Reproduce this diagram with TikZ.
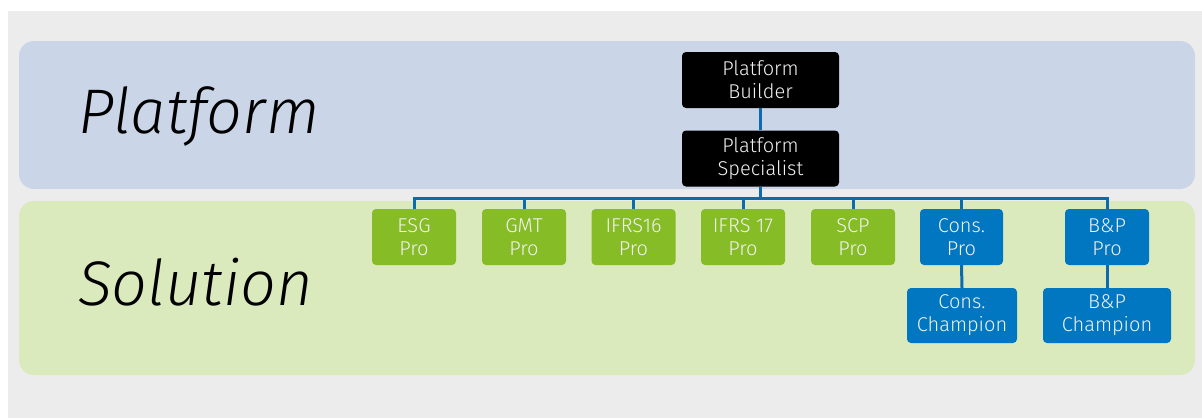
\documentclass[tikz,border=0pt]{standalone}
\usepackage{fontspec}
\setmainfont{Fira Sans}
\IfFontExistsTF{FiraSans-LightItalic.otf}{\newfontfamily\bandfont{FiraSans-LightItalic.otf}}{%
\IfFontExistsTF{FiraSans-LightItalic.ttf}{\newfontfamily\bandfont{FiraSans-LightItalic.ttf}}{%
\newfontfamily\bandfont{Fira Sans Light}[FakeSlant=0.2]}}
\IfFontExistsTF{FiraSans-Light.otf}{\newfontfamily\rolefont{FiraSans-Light.otf}}{%
\IfFontExistsTF{FiraSans-Light.ttf}{\newfontfamily\rolefont{FiraSans-Light.ttf}}{%
\newfontfamily\rolefont{Fira Sans}}}
\definecolor{bggray}{HTML}{ECECEC}
\definecolor{platband}{HTML}{CBD5E8}
\definecolor{solband}{HTML}{DBEABD}
\definecolor{progreen}{HTML}{86BC25}
\definecolor{problue}{HTML}{0077C0}
\definecolor{linkblue}{HTML}{0A6BB0}
\definecolor{roletext}{HTML}{F2F2F2}
\tikzset{
  band/.style={rounded corners=15pt, draw=none},
  role/.style={rounded corners=4pt, text=roletext, align=center, inner sep=0pt,
    font=\rolefont\fontsize{20}{23}\selectfont},
  blackrole/.style={role, fill=black, minimum width=157pt, minimum height=56pt},
  greenrole/.style={role, fill=progreen, minimum width=84pt, minimum height=56pt},
  bluerole/.style={role, fill=problue, minimum height=56pt},
  bandlabel/.style={anchor=base west, inner sep=0pt, font=\bandfont\fontsize{63}{70}\selectfont},
  link/.style={draw=linkblue, line width=3pt}
}
\begin{document}
\begin{tikzpicture}[x=1pt,y=-1pt]
\useasboundingbox (0,0) rectangle (1202,418);
\fill[white] (0,0) rectangle (1202,418);
\fill[bggray] (8,11) rectangle (1202,418);
\fill[band, fill=platband] (19,41) rectangle (1195,189);
\fill[band, fill=solband] (19,201) rectangle (1195,375);
\node[bandlabel] (lplat) at (78,133) {Platform};
\node[bandlabel] (lsol) at (78,305) {Solution};

\node[blackrole] (builder) at (760.5,80) {Platform\\Builder};
\node[blackrole] (spec) at (760.5,158.5) {Platform\\Specialist};

\node[greenrole] (esg) at (414,237) {ESG\\Pro};
\node[greenrole] (gmt) at (524,237) {GMT\\Pro};
\node[greenrole] (ifrsa) at (633.5,237) {IFRS16\\Pro};
\node[greenrole] (ifrsb) at (743,237) {IFRS 17\\Pro};
\node[greenrole] (scp) at (853,237) {SCP\\Pro};
\node[bluerole, minimum width=83pt] (cons) at (961.5,237) {Cons.\\Pro};
\node[bluerole, minimum width=84pt] (bp) at (1107,237) {B\&P\\Pro};
\node[bluerole, minimum width=110pt, minimum height=55pt] (consch) at (962,315.5) {Cons.\\Champion};
\node[bluerole, minimum width=128pt, minimum height=55pt] (bpch) at (1107,315.5) {B\&P\\Champion};

\coordinate (bus) at (760.5,198);
\draw[link] (builder.south) -- (spec.north);
\draw[link] (spec.south) -- (bus);
\draw[link] (bus) -| (esg.north);
\draw[link] (bus) -| (gmt.north);
\draw[link] (bus) -| (ifrsa.north);
\draw[link] (bus) -| (ifrsb.north);
\draw[link] (bus) -| (scp.north);
\draw[link] (bus) -| (cons.north);
\draw[link] (bus) -| (bp.north);
\draw[link] (cons.south) -- (consch.north);
\draw[link] (bp.south) -- (bpch.north);
\end{tikzpicture}
\end{document}
